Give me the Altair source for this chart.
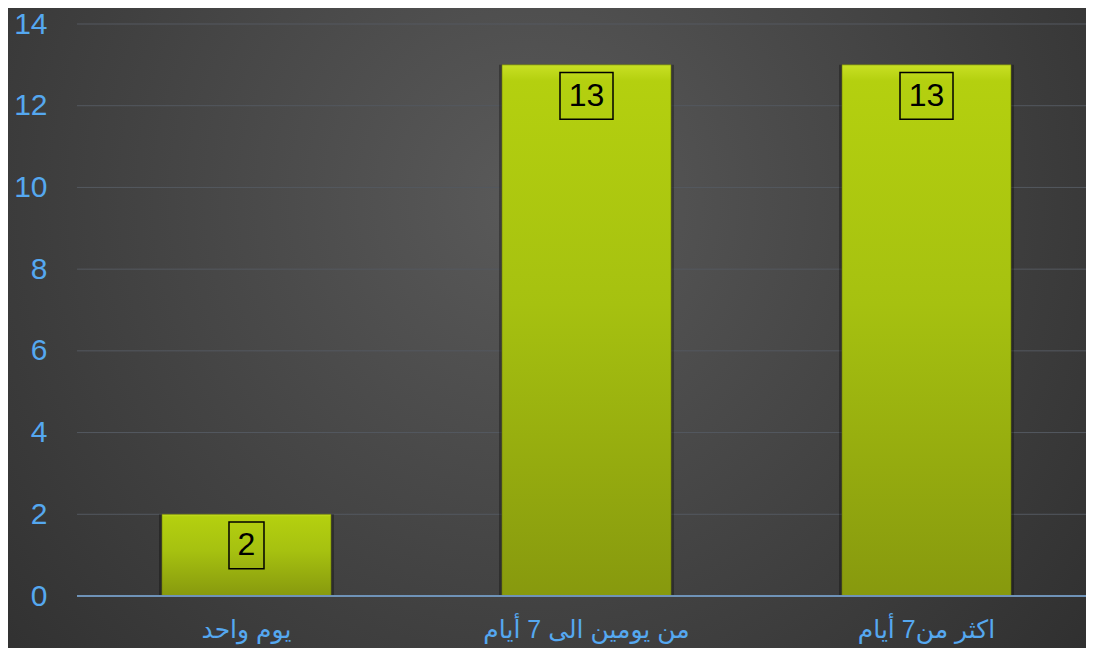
import altair as alt
import pandas as pd

categories = ["يوم واحد", "من يومين الى 7 أيام", "اكثر من7 أيام"]
values = [2, 13, 13]
y_ticks = [0, 2, 4, 6, 8, 10, 12, 14]

df = pd.DataFrame({"cat": categories, "val": values})

W, H = 1009, 572
PAD = {"left": 69, "top": 16, "right": 0, "bottom": 52}
BLUE = "#55a8f0"
FONT = "Liberation Sans, Arial, DejaVu Sans"

x_scale = alt.Scale(range=[0, 1019], paddingInner=0.503, paddingOuter=0.25)
x_enc = alt.X("cat:N", sort=categories, scale=x_scale,
              axis=alt.Axis(title=None, labelAngle=0, labelColor=BLUE, labelFontSize=25,
                            labelFont=FONT, labelPadding=21, labelLimit=500, ticks=False,
                            domain=False, grid=False, zindex=2))
y_scale = alt.Scale(domain=[0, 14], nice=False)

bg = alt.Chart(df).mark_rect(
    clip=False,
    color=alt.Gradient(gradient="radial", x1=0.48, y1=0.38, r1=0, x2=0.48, y2=0.38, r2=0.72,
                       stops=[alt.GradientStop(color="#5a5a5a", offset=0),
                              alt.GradientStop(color="#2c2c2c", offset=1)]),
).encode(x=alt.value(-PAD["left"]), x2=alt.value(W + 10),
         y=alt.value(-PAD["top"]), y2=alt.value(H + PAD["bottom"]))

grid = alt.Chart(pd.DataFrame({"t": y_ticks})).mark_rule(color="#545960", strokeWidth=1).encode(
    y=alt.Y("t:Q", scale=y_scale,
            axis=alt.Axis(title=None, values=y_ticks, labelColor=BLUE, labelFontSize=30,
                          labelFont=FONT, labelPadding=30, ticks=False, domain=False,
                          grid=False, zindex=2)),
    x=alt.value(0), x2=alt.value(W + 10),
)

shadow = alt.Chart(df).mark_bar(color="#000000", opacity=0.3, size=175).encode(
    x=x_enc, y=alt.Y("val:Q", scale=y_scale)
)

bars = alt.Chart(df).mark_bar(
    color=alt.Gradient(gradient="linear", x1=0, y1=0, x2=0, y2=1,
                       stops=[alt.GradientStop(color="#c8e024", offset=0),
                              alt.GradientStop(color="#b4d00f", offset=0.03),
                              alt.GradientStop(color="#a6c110", offset=0.45),
                              alt.GradientStop(color="#87990e", offset=1)]),
    size=169, stroke="#6e7d08", strokeWidth=1, strokeOpacity=0.6,
).encode(x=x_enc, y=alt.Y("val:Q", scale=y_scale))

baseline = alt.Chart(df).mark_rule(color="#6f93b8", strokeWidth=2).encode(
    y=alt.value(H), x=alt.value(0), x2=alt.value(W + 10)
)

boxes = alt.Chart(df).transform_calculate(
    top="datum.val - 0.19", bot="datum.val - 1.33",
    bw="length(toString(datum.val)) > 1 ? 53 : 35",
).mark_bar(fillOpacity=0, stroke="#000000", strokeWidth=1.5, fill="#000000").encode(
    x=x_enc, y=alt.Y("top:Q", scale=y_scale), y2="bot:Q",
    size=alt.Size("bw:Q", scale=None, legend=None),
)

labels = alt.Chart(df).transform_calculate(mid="datum.val - 0.76").mark_text(
    font=FONT, fontSize=32, color="#000000", baseline="middle", align="center"
).encode(x=x_enc, y=alt.Y("mid:Q", scale=y_scale), text="val:Q")

chart = alt.layer(bg, grid, shadow, bars, baseline, boxes, labels).properties(
    width=W, height=H,
    autosize=alt.AutoSizeParams(type="none"),
    padding=PAD,
    background="#2e2e2e",
).configure_view(stroke=None)

chart.save("out.html", embed_options={"renderer": "svg", "actions": False})
